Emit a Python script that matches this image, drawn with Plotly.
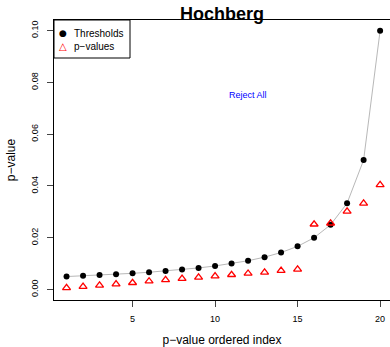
import plotly.graph_objects as go

index = list(range(1, 21))
thresholds = [0.005, 0.005263, 0.005556, 0.005882, 0.00625, 0.006667, 0.007143,
              0.007692, 0.008333, 0.009091, 0.01, 0.011111, 0.0125, 0.014286,
              0.016667, 0.02, 0.025, 0.033333, 0.05, 0.1]
pvalues = [0.00065, 0.0011, 0.0016, 0.0021, 0.0026, 0.0032, 0.0037, 0.0042,
           0.0047, 0.0052, 0.0057, 0.0062, 0.0066, 0.0073, 0.0078,
           0.0252, 0.0256, 0.0302, 0.0333, 0.0404]
x_ticks = [5, 10, 15, 20]
y_ticks = [0.00, 0.02, 0.04, 0.06, 0.08, 0.10]
y_tick_labels = ["0.00", "0.02", "0.04", "0.06", "0.08", "0.10"]
legend_labels = ["Thresholds", "p\u2212values"]

FONT = "Liberation Sans, Arial, sans-serif"
L, T, W, H = 54, 20, 336, 280


def px(xp):
    return (xp - L) / W


def py(yp):
    return 1 - (yp - T) / H


fig = go.Figure()
fig.add_trace(go.Scatter(x=index, y=thresholds, mode="lines",
                         line=dict(color="#b8b8b8", width=1), showlegend=False,
                         hoverinfo="skip"))
fig.add_trace(go.Scatter(x=index, y=thresholds, mode="markers", name=legend_labels[0],
                         marker=dict(symbol="circle", color="black", size=6),
                         showlegend=False))
fig.add_trace(go.Scatter(x=index, y=pvalues, mode="markers", name=legend_labels[1],
                         marker=dict(symbol="triangle-up-open", color="red", size=7,
                                     line=dict(width=1.3, color="red")),
                         showlegend=False))

fig.add_annotation(x=12, y=0.075, text="Reject All", showarrow=False,
                   font=dict(family=FONT, size=9, color="blue"))
fig.add_annotation(xref="paper", yref="paper", x=0.5, y=1.0, yshift=6,
                   text="<b>Hochberg</b>", showarrow=False, yanchor="middle",
                   font=dict(family=FONT, size=18, color="black"))

# manual legend box
fig.add_shape(type="rect", xref="paper", yref="paper",
              x0=px(54), x1=px(130), y0=py(58), y1=py(20),
              line=dict(color="black", width=1), fillcolor="white", layer="above")
fig.add_annotation(xref="paper", yref="paper", x=px(63), y=py(33), text="\u25cf",
                   showarrow=False, xanchor="center", yanchor="middle",
                   font=dict(family="DejaVu Sans", size=9, color="black"))
fig.add_annotation(xref="paper", yref="paper", x=px(63), y=py(46), text="<b>\u25b3</b>",
                   showarrow=False, xanchor="center", yanchor="middle",
                   font=dict(family="DejaVu Sans", size=10, color="red"))
for i, lab in enumerate(legend_labels):
    fig.add_annotation(xref="paper", yref="paper", x=px(72), y=py(33 + 13 * i), text=lab,
                       showarrow=False, xanchor="left", yanchor="middle",
                       font=dict(family=FONT, size=10, color="black"))

fig.update_layout(
    width=390, height=347,
    margin=dict(l=L, r=0, t=T, b=47),
    paper_bgcolor="white", plot_bgcolor="white",
    font=dict(family=FONT, size=10, color="black"),
    showlegend=False,
    xaxis=dict(range=[0.24, 20.6], tickvals=x_ticks, ticks="outside", ticklen=6,
               showline=True, linecolor="black", linewidth=1, mirror=True,
               showgrid=False, zeroline=False, ticklabelstandoff=4,
               title=dict(text="p\u2212value ordered index", font=dict(size=12), standoff=14),
               tickfont=dict(size=9)),
    yaxis=dict(range=[-0.00406, 0.10413], tickvals=y_ticks, ticktext=y_tick_labels,
               ticks="outside", ticklen=6, tickangle=-90,
               showline=True, linecolor="black", linewidth=1, mirror=False,
               showgrid=False, zeroline=False, ticklabelstandoff=5,
               title=dict(text="p\u2212value", font=dict(size=12), standoff=12),
               tickfont=dict(size=9)),
)

fig.write_html("out.html")
